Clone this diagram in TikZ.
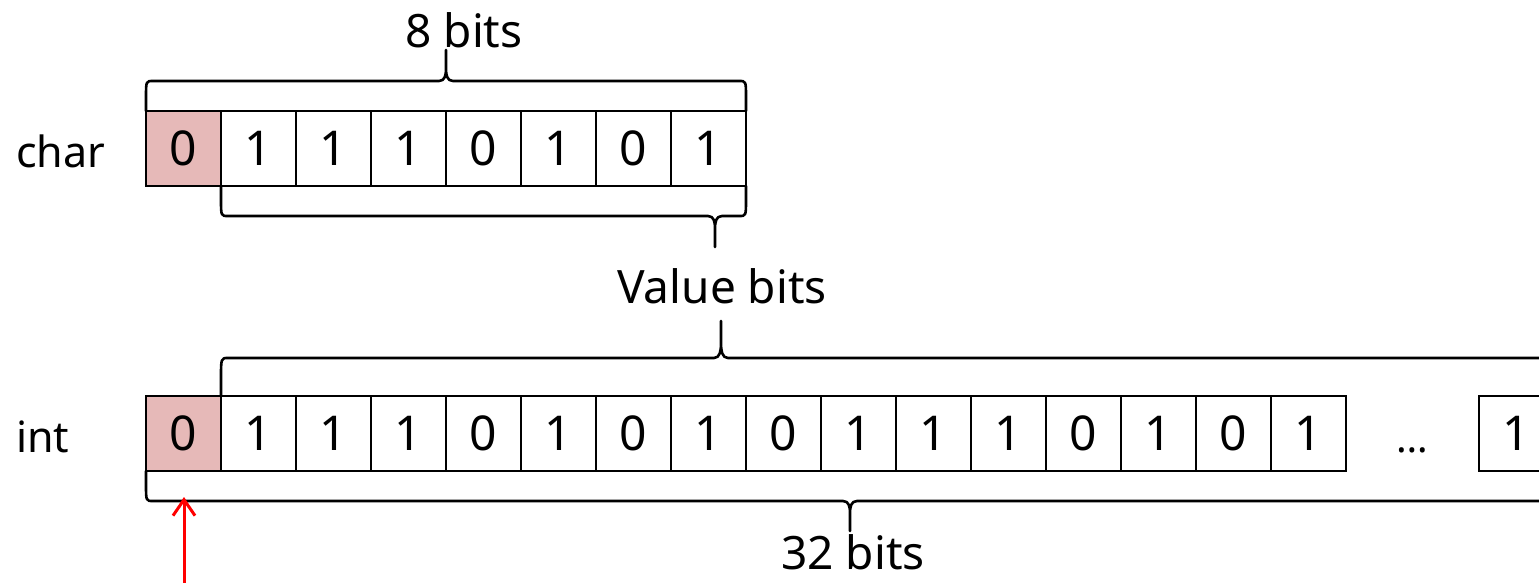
\documentclass[tikz,border=0pt]{standalone}
\usepackage{fontspec}
\setmainfont{Noto Sans}
\usetikzlibrary{arrows.meta}
\definecolor{signpink}{HTML}{E6B9B8}
% curly brace: ends at #1 and #2 on edge y=#3, bar at y=#4, point at (#5,#6)
\newcommand\bitbrace[6]{%
  \draw[bracestyle] (#1,#3) -- (#1,{#4+0.55*(#3-#4)}) .. controls (#1,#4) .. ({#1+7},#4)
    -- ({#5-7},#4) .. controls ({#5-1},#4) and (#5,{#4+0.2*(#6-#4)}) .. (#5,{#4+0.4*(#6-#4)}) -- (#5,#6)
    -- (#5,{#4+0.4*(#6-#4)}) .. controls (#5,{#4+0.2*(#6-#4)}) and ({#5+1},#4) .. ({#5+7},#4)
    -- ({#2-7},#4) .. controls (#2,#4) .. (#2,{#4+0.55*(#3-#4)}) -- (#2,#3);}
\begin{document}
\begin{tikzpicture}[x=1pt,y=-1pt,
  bitcell/.style={draw=black, line width=1.3pt, minimum width=75pt, minimum height=75pt,
    inner sep=0pt, outer sep=0pt, anchor=north west, font=\fontsize{48}{50}\selectfont},
  signcell/.style={bitcell, fill=signpink},
  bracestyle/.style={draw=black, line width=2.6pt, line join=round, line cap=round},
  bigtext/.style={anchor=base, inner sep=0pt, font=\fontsize{46}{50}\selectfont},
  rowlabel/.style={anchor=base west, inner sep=0pt, font=\fontsize{43}{50}\selectfont},
  redarrow/.style={draw=red, line width=3pt, -{Straight Barb[length=16pt,width=22pt,line width=3pt]}}]
\useasboundingbox (0,0) rectangle (1539,582);
\clip (0,0) rectangle (1539,582);

% char row
\node[rowlabel] (charlabel) at (16,167) {char};
\node[signcell] (c0) at (146,111) {0};
\foreach \b [count=\i] in {1,1,1,0,1,0,1}
  \node[bitcell] (c\i) at ({146+75*\i},111) {\b};

% int row
\node[rowlabel] (intlabel) at (16,452) {int};
\node[signcell] (i0) at (146,396) {0};
\foreach \b [count=\i] in {1,1,1,0,1,0,1,0,1,1,1,0,1,0,1}
  \node[bitcell] (i\i) at ({146+75*\i},396) {\b};
\node[anchor=base, inner sep=0pt, font=\fontsize{40}{44}\selectfont] (dots) at (1412,452) {…};
\node[bitcell] (ilast) at (1479,396) {1};

% braces and their labels
\bitbrace{146}{746}{111}{81}{446}{50}
\node[bigtext] (eightbits) at (464,47) {8 bits};
\bitbrace{221}{746}{186}{216}{715}{247}
\node[bigtext] (valuebits) at (722,303) {Value bits};
\bitbrace{221}{1554}{396}{358}{721}{321}
\bitbrace{146}{1554}{471}{501}{850}{531}
\node[bigtext] (thirtytwobits) at (853,569) {32 bits};

% pointer to the sign bit
\coordinate (ptrfoot) at (184,590);
\coordinate (ptrtip) at (184,497);
\draw[redarrow] (ptrfoot) -- (ptrtip);
\end{tikzpicture}
\end{document}
